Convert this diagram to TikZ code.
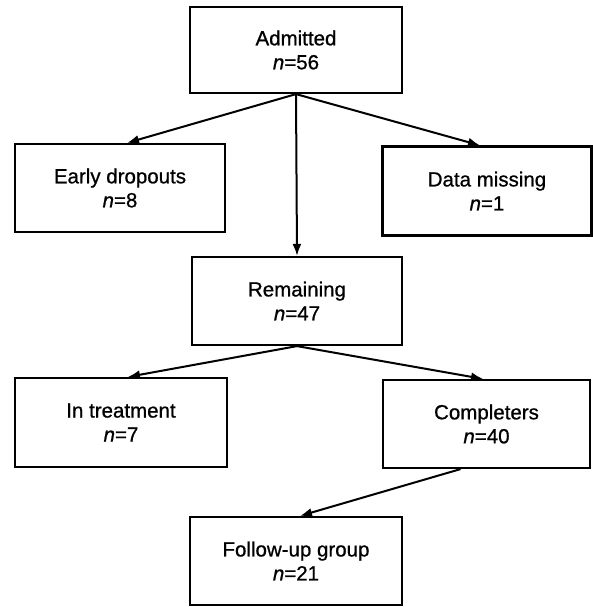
\documentclass[tikz,border=0pt]{standalone}
\usepackage{fontspec}
\setmainfont{Liberation Sans}[FakeBold=0.8]
\usetikzlibrary{arrows.meta,calc}
\begin{document}
\begin{tikzpicture}[x=1pt,y=-1pt,
  box/.style={draw, line width=2.2pt, rectangle, align=center, inner sep=0pt,
    font=\fontsize{20.5}{24}\selectfont},
  arr/.style={line width=2pt, -{Latex[length=12pt,width=9pt]}}]
\useasboundingbox (0,0) rectangle (593,607);
\node[box, minimum width=212pt, minimum height=86pt] (adm) at (296,50) {Admitted\\\textit{n}=56};
\node[box, minimum width=210pt, minimum height=88pt] (early) at (120,188) {Early dropouts\\\textit{n}=8};
\node[box, minimum width=209pt, minimum height=89pt] (miss) at (487,191) {Data missing\\\textit{n}=1};
\node[box, minimum width=210pt, minimum height=88pt] (rem) at (297,301) {Remaining\\\textit{n}=47};
\node[box, minimum width=212pt, minimum height=89pt] (treat) at (121,422.5) {In treatment\\\textit{n}=7};
\node[box, minimum width=207pt, minimum height=88pt] (comp) at (486.5,424) {Completers\\\textit{n}=40};
\node[box, minimum width=212pt, minimum height=88pt] (fol) at (296,561) {Follow-up group\\\textit{n}=21};
\draw[arr] (adm.south) -- ($(early.north)+(7,0)$);
\draw[arr] (adm.south) -- ($(miss.north)+(-7,0)$);
\draw[arr] (adm.south) -- ($(rem.north)+(0,0)$);
\draw[arr] (rem.south) -- ($(treat.north)+(7,0)$);
\draw[arr] (rem.south) -- ($(comp.north)+(-3.5,0)$);
\draw[arr] ($(comp.south)+(-26,0)$) -- ($(fol.north)+(4,0)$);
\end{tikzpicture}
\end{document}
